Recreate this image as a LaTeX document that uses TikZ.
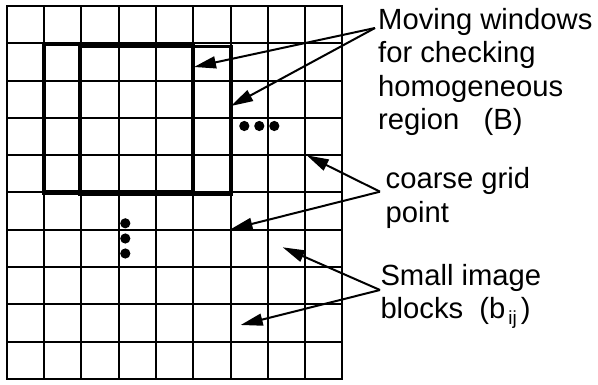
\documentclass[tikz,border=0pt]{standalone}
\usepackage{fontspec}
\setmainfont{Liberation Sans}
\usetikzlibrary{arrows.meta}

\begin{document}
\begin{tikzpicture}[x=1pt,y=-1pt,
  gridline/.style={line width=2pt, line cap=rect},
  windowA/.style={line width=4.4pt, line cap=rect},
  windowB/.style={line width=3.6pt, line cap=rect},
  pointer/.style={line width=2pt, -{Triangle[length=22pt,width=12pt]}},
  caption/.style={inner sep=0pt, align=left, anchor=base west,
    font=\fontsize{29.2pt}{33.4pt}\selectfont},
  dot/.style={fill=black}]
\useasboundingbox (0,0) rectangle (598,385);

% fine grid of small image blocks: 9 columns x 10 rows
\def\cs{37.3}
\foreach \i in {0,...,9}
  \draw[gridline] ({6.7+\cs*\i},6) -- ({6.7+\cs*\i},379);
\foreach \j in {0,...,10}
  \draw[gridline] (6.7,{6+\cs*\j}) -- (342.4,{6+\cs*\j});

% two overlapping moving windows
\draw[windowA] (44,44) rectangle (193,192.5);
\draw[windowB] (80,46.5) rectangle (231,194.5);

% continuation dots
\fill[dot] (244.3,126) circle (5.1);
\fill[dot] (259.3,126) circle (5.1);
\fill[dot] (274.3,126) circle (5.1);
\fill[dot] (125.3,223.3) circle (5.1);
\fill[dot] (125.3,238.5) circle (5.1);
\fill[dot] (125.3,253.5) circle (5.1);

% captions (base anchor sits on the last line)
\node[caption] (mw) at (378,129.5)
  {Moving windows\\for checking\\homogeneous\\region\ \ \ (B)};
\node[caption] (cg) at (385.5,222.2) {coarse grid\\point};
\node[caption] (sb) at (380.3,318.4)
  {Small image\\blocks\ \ (b\kern3pt\raisebox{-6pt}{\fontsize{19pt}{19pt}\selectfont ij}\kern4pt)};

% arrow origins next to the captions
\coordinate (mwo) at (375,28);
\coordinate (cgo) at (380,191.7);
\coordinate (sbo) at (380,290);

% arrow targets
\coordinate (winA) at (194,67);
\coordinate (winB) at (231,106);
\coordinate (gp1) at (306.7,155.3);
\coordinate (gp2) at (230.5,229.3);
\coordinate (blk1) at (282.7,247.3);
\coordinate (blk2) at (240.7,325);

\draw[pointer] (mwo) -- (winA);
\draw[pointer] (mwo) -- (winB);
\draw[pointer] (cgo) -- (gp1);
\draw[pointer] (cgo) -- (gp2);
\draw[pointer] (sbo) -- (blk1);
\draw[pointer] (sbo) -- (blk2);
\end{tikzpicture}
\end{document}
